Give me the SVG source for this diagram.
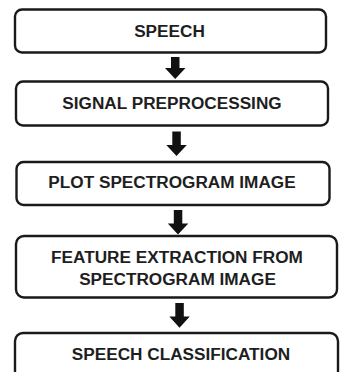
<svg xmlns="http://www.w3.org/2000/svg" width="340" height="372" viewBox="0 0 340 372">
  <style>
    .box { fill: #ffffff; stroke: #1a1a1a; stroke-width: 2.4; }
    .label { font-family: "Liberation Sans", Arial, sans-serif; font-weight: bold; font-size: 17.2px; fill: #1e1e1e; text-anchor: middle; }
    .arrow { fill: #111111; }
  </style>
  <rect width="340" height="372" fill="#ffffff"/>

  <g id="speech">
    <rect class="box" x="15" y="9.5" width="311" height="43" rx="7"/>
    <text class="label" x="169.5" y="36.6">SPEECH</text>
  </g>

  <g id="signal-preprocessing">
    <rect class="box" x="16" y="81.5" width="312" height="44" rx="7"/>
    <text class="label" x="172" y="108.6">SIGNAL PREPROCESSING</text>
  </g>

  <g id="plot-spectrogram">
    <rect class="box" x="16.5" y="162" width="313" height="43" rx="7"/>
    <text class="label" x="172" y="188.4">PLOT SPECTROGRAM IMAGE</text>
  </g>

  <g id="feature-extraction">
    <rect class="box" x="16" y="236" width="321" height="61.5" rx="8"/>
    <text class="label" x="177" y="262.7">FEATURE EXTRACTION FROM</text>
    <text class="label" x="177.5" y="285">SPECTROGRAM IMAGE</text>
  </g>

  <g id="speech-classification">
    <rect class="box" x="15" y="333" width="323" height="60" rx="8"/>
    <text class="label" x="181" y="360">SPEECH CLASSIFICATION</text>
  </g>

  <!-- block arrows between the stages -->
  <g id="connectors">
    <path class="arrow" d="M171 57 H179.5 V68 H185.5 L175.2 79 L165 68 H171 Z"/>
    <path class="arrow" d="M172.3 131.5 H180.8 V145 H186.8 L176.5 156 L166.3 145 H172.3 Z"/>
    <path class="arrow" d="M173.8 210 H182.3 V223.5 H188.3 L178 234.5 L167.8 223.5 H173.8 Z"/>
    <path class="arrow" d="M175.3 303 H183.8 V316.5 H189.8 L179.5 327.7 L169.3 316.5 H175.3 Z"/>
  </g>
</svg>
